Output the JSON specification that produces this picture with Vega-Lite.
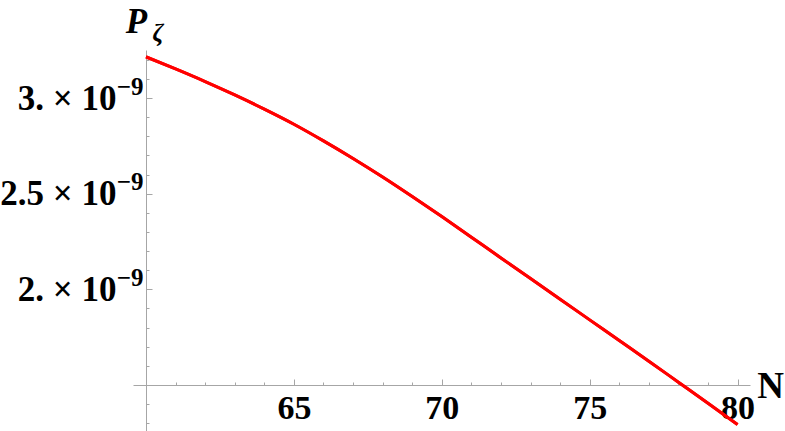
{
  "$schema": "https://vega.github.io/schema/vega-lite/v6.json",
  "width": 617,
  "height": 381,
  "autosize": "none",
  "padding": {"left": 133, "top": 50, "right": 35, "bottom": 0},
  "background": "white",
  "data": {"values": [
    {"N": 60, "P": 3.215e-9}, {"N": 61, "P": 3.152e-9}, {"N": 62, "P": 3.086e-9},
    {"N": 63, "P": 3.016e-9}, {"N": 64, "P": 2.942e-9}, {"N": 65, "P": 2.863e-9},
    {"N": 66, "P": 2.776e-9}, {"N": 67, "P": 2.684e-9}, {"N": 68, "P": 2.587e-9},
    {"N": 69, "P": 2.485e-9}, {"N": 70, "P": 2.380e-9}, {"N": 71, "P": 2.272e-9},
    {"N": 72, "P": 2.164e-9}, {"N": 73, "P": 2.056e-9}, {"N": 74, "P": 1.948e-9},
    {"N": 75, "P": 1.840e-9}, {"N": 76, "P": 1.732e-9}, {"N": 77, "P": 1.624e-9},
    {"N": 78, "P": 1.514e-9}, {"N": 79, "P": 1.404e-9}, {"N": 80, "P": 1.293e-9}
  ]},
  "encoding": {
    "x": {
      "field": "N", "type": "quantitative",
      "scale": {"domain": [59.56, 80.42], "nice": false, "zero": false},
      "axis": {
        "values": [60,61,62,63,64,65,66,67,68,69,70,71,72,73,74,75,76,77,78,79,80],
        "labelExpr": "datum.value % 5 === 0 && datum.value !== 60 ? datum.label : ''",
        "offset": -46,
        "grid": false,
        "domainColor": "#a6a6a6",
        "tickColor": "#a6a6a6",
        "tickSize": {"condition": {"test": "datum.value % 5 === 0", "value": -6}, "value": -3},
        "labelFont": "Liberation Serif", "labelFontWeight": "bold", "labelFontSize": 34, "labelColor": "black",
        "labelPadding": 12, "labelFlush": false, "labelOverlap": false,
        "title": "N", "titleFont": "Liberation Serif", "titleFontWeight": "bold", "titleFontSize": 37, "titleColor": "black",
        "titleX": 637, "titleY": 12, "titleAlign": "center", "titleBaseline": "alphabetic"
      }
    }
  },
  "layer": [
    {
      "mark": {"type": "line", "color": "#ff0000", "strokeWidth": 3, "interpolate": "monotone"},
      "encoding": {
        "y": {
          "field": "P", "type": "quantitative",
          "scale": {"domain": [1.259e-9, 3.251e-9], "nice": false, "zero": false},
          "axis": {
            "orient": "left",
            "values": [1.3e-9,1.4e-9,1.5e-9,1.6e-9,1.7e-9,1.8e-9,1.9e-9,2.0e-9,2.1e-9,2.2e-9,2.3e-9,2.4e-9,2.5e-9,2.6e-9,2.7e-9,2.8e-9,2.9e-9,3.0e-9,3.1e-9,3.2e-9],
            "labelExpr": "abs(datum.value*2e9 - round(datum.value*2e9)) < 1e-6 && abs(datum.value*1e9 - 1.5) > 1e-6 ? replace(format(datum.value*1e9, '.1f'), '.0', '.') + ' × 10' : ''",
            "offset": -13,
            "grid": false,
            "domainColor": "#a6a6a6",
            "tickColor": "#a6a6a6",
            "tickSize": {"condition": {"test": "abs(datum.value*2e9 - round(datum.value*2e9)) < 1e-6", "value": -6}, "value": -3},
            "labelFont": "Liberation Serif", "labelFontWeight": "bold", "labelFontSize": 35, "labelColor": "black",
            "labelPadding": 36, "labelOverlap": false, "labelFlush": false,
            "title": "P", "titleFont": "Liberation Serif", "titleFontWeight": "bold", "titleFontStyle": "italic", "titleFontSize": 35, "titleColor": "black",
            "titleAngle": 0, "titleX": -10, "titleY": -18, "titleAlign": "center", "titleBaseline": "alphabetic"
          }
        }
      }
    },
    {
      "mark": {"type": "line", "color": "#ff0000", "strokeWidth": 3, "interpolate": "monotone"},
      "encoding": {
        "y": {
          "field": "P", "type": "quantitative",
          "scale": {"domain": [1.259e-9, 3.251e-9], "nice": false, "zero": false},
          "axis": {
            "orient": "left",
            "values": [2.0e-9, 2.5e-9, 3.0e-9],
            "labelExpr": "'−9'",
            "offset": -13,
            "grid": false,
            "domain": false,
            "ticks": false,
            "labelFont": "Liberation Serif", "labelFontWeight": "bold", "labelFontSize": 25, "labelColor": "black",
            "labelPadding": 3, "labelOffset": -12, "labelOverlap": false, "labelFlush": false,
            "title": "ζ", "titleFont": "Liberation Serif", "titleFontWeight": "bold", "titleFontStyle": "italic", "titleFontSize": 25, "titleColor": "black",
            "titleAngle": 0, "titleX": 6, "titleY": -10, "titleAlign": "left", "titleBaseline": "alphabetic"
          }
        }
      }
    }
  ],
  "resolve": {"axis": {"y": "independent"}},
  "config": {"view": {"stroke": null}}
}
